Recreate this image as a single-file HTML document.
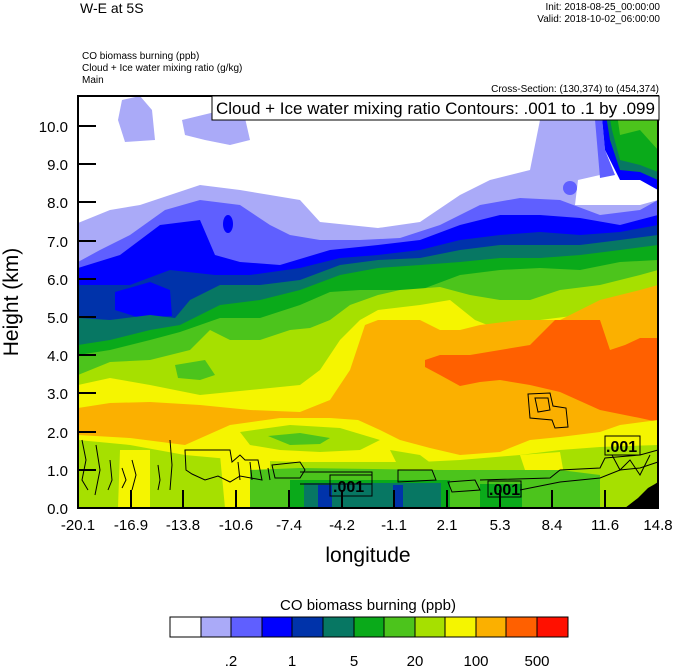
<!DOCTYPE html>
<html><head><meta charset="utf-8"><style>
body{margin:0;background:#fff;width:674px;height:667px;overflow:hidden;font-family:"Liberation Sans",sans-serif}
</style></head><body>
<svg width="674" height="667" viewBox="0 0 674 667" xmlns="http://www.w3.org/2000/svg" font-family="Liberation Sans, sans-serif">
<defs><clipPath id="c"><rect x="78" y="96" width="580" height="412"/></clipPath></defs>
<g clip-path="url(#c)" stroke="none">
<rect x="78" y="96" width="580" height="412" fill="#fff"/>
<polygon fill="#aaaaf8" points="78,223 110,210 140,205 170,195 200,185 240,190 270,195 300,200 320,222 378,228 420,222 460,195 490,180 530,170 540,120 530,96 600,96 600,175 578,180 575,205 640,205 658,200 658,508 78,508"/>
<polygon fill="#aaaaf8" points="122,100 140,96 152,110 155,140 125,142 118,120"/>
<polygon fill="#aaaaf8" points="182,120 215,112 245,118 250,140 230,145 205,140 185,135"/>
<polygon fill="#5f5fff" points="78,262 100,250 130,235 165,210 200,200 240,205 270,225 290,235 320,240 360,240 400,238 440,225 480,205 520,198 560,200 600,215 640,210 658,200 658,508 78,508"/>
<polygon fill="#5f5fff" points="593,96 600,96 605,150 615,175 600,178"/>
<ellipse cx="570" cy="188" rx="7" ry="7" fill="#5f5fff"/>
<polygon fill="#0000ff" points="600,96 658,96 658,190 640,180 620,180 605,150"/>
<polygon fill="#077763" points="603,96 658,96 658,180 640,172 620,170 610,140"/>
<polygon fill="#0aaa1a" points="606,96 658,96 658,172 640,165 620,160 612,130"/>
<polygon fill="#4cc41c" points="615,100 658,96 658,150 640,130 620,135"/>
<polygon fill="#0000ff" points="78,268 120,255 160,225 200,220 215,255 240,262 280,265 330,250 378,245 420,240 460,225 500,215 540,215 580,218 620,225 658,215 658,508 78,508"/>
<ellipse cx="228" cy="224" rx="5" ry="9" fill="#0000ff"/>
<polygon fill="#0033aa" points="78,285 130,285 170,270 215,275 250,275 300,268 340,258 378,255 420,250 460,240 500,235 540,232 580,235 620,232 658,225 658,508 78,508"/>
<polygon fill="#0000ff" points="115,292 150,282 170,290 172,316 140,318 115,310"/>
<polygon fill="#077763" points="78,318 110,320 150,315 175,318 190,300 220,285 260,285 300,280 340,265 378,260 420,258 460,250 500,245 540,245 580,245 620,240 658,235 658,508 78,508"/>
<polygon fill="#0aaa1a" points="78,345 110,340 150,330 180,325 220,305 260,300 300,290 340,275 378,268 420,265 460,262 500,258 540,258 580,255 620,250 658,245 658,508 78,508"/>
<polygon fill="#4cc41c" points="78,355 110,350 150,340 180,332 220,318 260,318 300,305 330,292 360,290 378,290 420,290 460,275 500,270 540,268 580,270 620,262 658,260 658,508 78,508"/>
<polygon fill="#a6e000" points="78,375 110,362 150,360 190,350 210,330 230,340 260,340 290,330 310,328 330,320 350,305 378,295 400,290 440,287 470,295 500,300 530,300 545,295 560,290 600,285 640,275 658,270 658,508 78,508"/>
<polygon fill="#4cc41c" points="175,365 205,360 215,375 200,380 178,378"/>
<polygon fill="#f5f500" points="78,385 110,378 150,385 200,395 250,390 300,385 320,370 340,340 360,320 378,310 420,305 450,300 475,320 500,330 540,320 580,315 620,300 658,290 658,508 78,508"/>
<polygon fill="#fbb000" points="78,408 110,403 150,402 200,405 250,410 300,412 330,400 350,370 365,325 378,320 420,320 440,330 460,330 480,325 520,320 560,320 600,300 640,290 658,285 658,508 78,508"/>
<polygon fill="#ff6000" points="425,360 440,355 470,355 500,350 530,345 555,320 600,320 610,350 625,345 640,338 658,338 658,422 640,418 600,410 560,392 530,385 500,380 480,382 460,386 440,375 425,367"/>
<polygon fill="#f5f500" points="78,435 130,438 185,445 230,425 280,418 330,418 358,420 380,430 400,440 430,448 460,455 500,452 530,440 560,437 600,432 620,425 658,420 658,508 78,508"/>
<polygon fill="#a6e000" points="240,432 290,425 340,428 380,440 360,450 320,452 280,450 250,445"/>
<polygon fill="#4cc41c" points="268,436 300,433 330,438 320,444 290,445"/>
<polygon fill="#a6e000" points="390,450 420,455 440,470 400,470"/>
<polygon fill="#a6e000" points="78,440 130,445 185,455 240,460 300,462 360,462 420,462 460,460 520,455 560,450 600,447 658,445 658,508 78,508"/>
<polygon fill="#f5f500" points="120,450 150,450 150,508 118,508"/>
<polygon fill="#f5f500" points="220,455 270,458 270,508 225,508"/>
<polygon fill="#f5f500" points="520,455 560,452 565,480 530,485"/>
<polygon fill="#4cc41c" points="250,470 300,468 440,470 560,470 600,475 600,508 250,508"/>
<polygon fill="#0aaa1a" points="290,480 450,480 450,508 290,508"/>
<polygon fill="#077763" points="304,483 441,483 441,508 304,508"/>
<polygon fill="#0033aa" points="318,485 332,485 332,508 318,508"/>
<polygon fill="#0033aa" points="393,485 403,485 403,508 393,508"/>
<polygon fill="#0aaa1a" points="480,484 522,484 522,508 480,508"/>
<polygon fill="#a6e000" points="600,460 658,455 658,508 600,508"/>
<polygon fill="#000" points="625,508 638,498 648,488 655,484 658,482 658,508"/>
</g>
<g fill="none" stroke="#000" stroke-width="1">
<path d="M185,450 L230,450 L232,462 L240,455 L245,460 L258,460 L262,480 L240,476 L230,482 L218,476 L205,480 L192,474 L186,470 Z"/>
<path d="M272,465 L300,462 L305,470 L300,478 L275,478 Z"/>
<path d="M300,472 L372,472 L372,484 L300,484"/>
<path d="M398,470 L432,470 L436,480 L398,482 Z"/>
<path d="M448,482 L475,480 L480,490 L452,492 Z"/>
<path d="M480,480 L550,478 L560,470 L600,468 L605,458 L640,455 L658,450"/>
<path d="M520,490 L560,482 L600,478 L620,470 L640,468 L658,462"/>
<path d="M528,394 L550,393 L553,406 L566,408 L568,427 L555,428 L552,420 L530,418 Z"/>
<path d="M535,398 L548,398 L550,410 L538,412 Z"/>
<path d="M82,440 L86,460 L82,480 L88,490"/><path d="M96,445 L100,470 L95,495"/>
<path d="M110,460 L112,480 L108,490"/><path d="M122,468 L126,480 L122,488"/>
<path d="M132,460 L136,475 L132,490"/><path d="M170,440 L172,465 L170,490"/>
<path d="M158,465 L160,480 L158,490"/><path d="M238,462 L240,480"/><path d="M250,462 L252,480"/><path d="M268,468 L270,480"/>
<path d="M612,455 L620,470 L630,460 L640,475 L650,455"/>
</g>
<g stroke="#000" fill="none">
<rect x="330" y="475" width="42" height="21"/><rect x="488" y="481" width="33" height="16"/><rect x="605" y="436" width="35" height="19"/>
</g>
<g font-size="16" fill="#000" font-weight="bold">
<text x="333" y="492">.001</text><text x="489" y="495">.001</text><text x="606" y="452">.001</text>
</g>
<rect x="78" y="96" width="580" height="412" fill="none" stroke="#000" stroke-width="2"/>
<g stroke="#000" stroke-width="2">
<line x1="78" y1="470" x2="96" y2="470"/><line x1="78" y1="432" x2="96" y2="432"/><line x1="78" y1="393" x2="96" y2="393"/><line x1="78" y1="355" x2="96" y2="355"/><line x1="78" y1="317" x2="96" y2="317"/><line x1="78" y1="279" x2="96" y2="279"/><line x1="78" y1="241" x2="96" y2="241"/><line x1="78" y1="202" x2="96" y2="202"/><line x1="78" y1="164" x2="96" y2="164"/><line x1="78" y1="126" x2="96" y2="126"/>
<line x1="131" y1="508" x2="131" y2="490"/><line x1="183" y1="508" x2="183" y2="490"/><line x1="236" y1="508" x2="236" y2="490"/><line x1="289" y1="508" x2="289" y2="490"/><line x1="342" y1="508" x2="342" y2="490"/><line x1="394" y1="508" x2="394" y2="490"/><line x1="447" y1="508" x2="447" y2="490"/><line x1="500" y1="508" x2="500" y2="490"/><line x1="552" y1="508" x2="552" y2="490"/><line x1="605" y1="508" x2="605" y2="490"/>
</g>
<rect x="212" y="96" width="447" height="24" fill="#fff" stroke="#000"/>
<text x="216" y="114" font-size="17">Cloud + Ice water mixing ratio Contours: .001 to .1 by .099</text>
<g font-size="15" text-anchor="end">
<text x="68" y="514">0.0</text><text x="68" y="476">1.0</text><text x="68" y="438">2.0</text><text x="68" y="399">3.0</text><text x="68" y="361">4.0</text><text x="68" y="323">5.0</text><text x="68" y="285">6.0</text><text x="68" y="247">7.0</text><text x="68" y="208">8.0</text><text x="68" y="170">9.0</text><text x="68" y="132">10.0</text>
</g>
<g font-size="15" text-anchor="middle">
<text x="78" y="530">-20.1</text><text x="131" y="530">-16.9</text><text x="183" y="530">-13.8</text><text x="236" y="530">-10.6</text><text x="289" y="530">-7.4</text><text x="342" y="530">-4.2</text><text x="394" y="530">-1.1</text><text x="447" y="530">2.1</text><text x="500" y="530">5.3</text><text x="552" y="530">8.4</text><text x="605" y="530">11.6</text><text x="658" y="530">14.8</text>
</g>
<text x="368" y="562" font-size="21" text-anchor="middle">longitude</text>
<text transform="translate(18,302) rotate(-90)" font-size="21" text-anchor="middle">Height (km)</text>
<text x="80" y="13" font-size="14">W-E at 5S</text>
<g font-size="10" text-anchor="end"><text x="660" y="10">Init: 2018-08-25_00:00:00</text><text x="660" y="22">Valid: 2018-10-02_06:00:00</text><text x="659" y="92">Cross-Section: (130,374) to (454,374)</text></g>
<g font-size="10"><text x="82" y="59">CO biomass burning   (ppb)</text><text x="82" y="71">Cloud + Ice water mixing ratio   (g/kg)</text><text x="82" y="83">Main</text></g>
<text x="368" y="610" font-size="15" text-anchor="middle">CO biomass burning  (ppb)</text>
<g stroke="#000">
<rect x="170" y="617" width="31" height="20" fill="#fff"/><rect x="201" y="617" width="30" height="20" fill="#aaaaf8"/><rect x="231" y="617" width="31" height="20" fill="#5f5fff"/><rect x="262" y="617" width="30" height="20" fill="#0000ff"/><rect x="292" y="617" width="31" height="20" fill="#0033aa"/><rect x="323" y="617" width="31" height="20" fill="#077763"/><rect x="354" y="617" width="30" height="20" fill="#0aaa1a"/><rect x="384" y="617" width="31" height="20" fill="#4cc41c"/><rect x="415" y="617" width="30" height="20" fill="#a6e000"/><rect x="445" y="617" width="31" height="20" fill="#f5f500"/><rect x="476" y="617" width="30" height="20" fill="#fbb000"/><rect x="506" y="617" width="31" height="20" fill="#ff6000"/><rect x="537" y="617" width="31" height="20" fill="#ff1000"/>
</g>
<g font-size="15" text-anchor="middle"><text x="231" y="666">.2</text><text x="292" y="666">1</text><text x="354" y="666">5</text><text x="415" y="666">20</text><text x="476" y="666">100</text><text x="537" y="666">500</text></g>
</svg>
</body></html>
